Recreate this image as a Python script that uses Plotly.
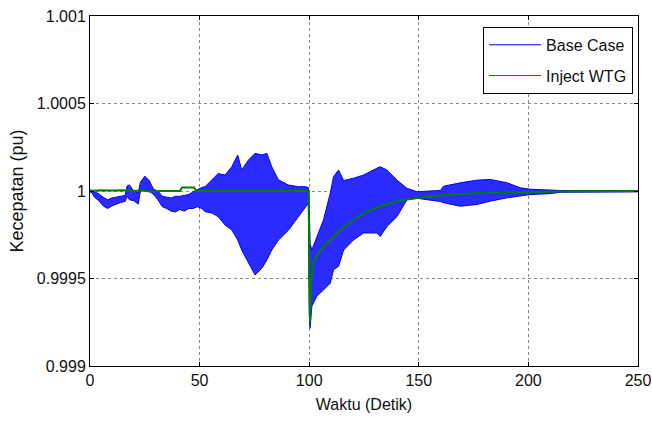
import plotly.graph_objects as go

# Base Case: envelope of the fast oscillation (time in s, speed in pu)
t_base = [0, 1, 2, 4, 6, 8, 10, 12, 14, 16, 17, 18, 20, 22, 23, 25, 27, 29, 31, 33, 35, 37, 39, 41, 43, 45,
          47, 49, 51, 52.5, 55.6, 58.5, 61.6, 64.7, 67.4, 69.2, 72.3, 75.3, 78.4, 80.7, 82.9, 86, 90.6,
          95.1, 98.2, 99.6, 100, 100.4, 101.2, 103.5, 106.5, 109.6, 111.1, 113.4, 115.7, 120.2, 124.8,
          130.9, 132.4, 135.4, 140, 144.6, 149.2, 155, 159.8, 161.3, 169, 176.6, 182.6, 190.3, 196.3,
          201, 210, 215, 250]
base_hi = [1.000005, 1.000005, 0.999995, 0.999985, 0.999965, 0.99995, 0.99996, 0.999965, 0.99997, 0.999975,
           1.00003, 1.000035, 1.0, 0.99999, 1.00005, 1.000085, 1.00006, 1.00001, 1.0, 0.99997, 0.999965,
           0.99996, 0.99997, 0.99997, 0.999975, 0.99998, 0.999995, 1.00001, 1.00002, 1.000025, 1.000063,
           1.0001, 1.000091, 1.000139, 1.000206, 1.00012, 1.000177, 1.000215, 1.000206, 1.000215, 1.000139,
           1.000063, 1.000034, 1.000025, 1.000025, 1.00002, 0.99995, 0.9997, 0.999663, 0.99974, 0.999834,
           0.999987, 1.000082, 1.00012, 1.00006, 1.000073, 1.000091, 1.00013, 1.000139, 1.00012, 1.000063,
           1.000015, 0.999996, 1.0, 1.000003, 1.000027, 1.000047, 1.000062, 1.000066, 1.000047, 1.000018,
           1.00001, 1.000005, 1.000003, 1.000003]
base_lo = [0.999995, 0.99999, 0.999965, 0.999945, 0.999915, 0.9999, 0.999915, 0.999925, 0.999935, 0.99994,
           0.99997, 0.99995, 0.999945, 0.999925, 1.0, 1.000005, 1.0, 0.99998, 0.99995, 0.99991, 0.9999,
           0.999885, 0.99988, 0.999895, 0.999885, 0.9999, 0.9999, 0.99991, 0.9999, 0.999882, 0.999874,
           0.999853, 0.999806, 0.999777, 0.99972, 0.999663, 0.999587, 0.99952, 0.999558, 0.999606, 0.999663,
           0.99972, 0.999777, 0.999853, 0.99991, 0.99993, 0.9993, 0.999215, 0.99934, 0.9994, 0.999434,
           0.999473, 0.99955, 0.99957, 0.999663, 0.99972, 0.99976, 0.99976, 0.99974, 0.999796, 0.999853,
           0.99995, 0.999958, 0.99995, 0.99994, 0.999933, 0.999913, 0.999923, 0.999942, 0.999961, 0.999974,
           0.99998, 0.999985, 0.999993, 0.999995]

# Inject WTG
t_wtg = [0, 5, 10, 15, 20, 25, 28, 30, 41, 42, 47.5, 48.5, 60, 80, 99.8, 100.1, 100.4, 101, 102, 104.5,
         107, 109.6, 114.2, 120.2, 126.3, 133.9, 141.6, 149.2, 155, 165.9, 182.6, 200.9, 220, 250]
wtg = [1.0, 1.000005, 1.000003, 1.000005, 1.0, 1.000003, 0.999995, 1.0, 1.0, 1.00002, 1.00002, 1.0, 1.0,
       1.000002, 1.0, 0.9995, 0.99925, 0.9995, 0.99959, 0.99965, 0.99969, 0.99972, 0.999777, 0.999834,
       0.999882, 0.99992, 0.999945, 0.99996, 0.999967, 0.999981, 0.99999, 0.999996, 0.999999, 1.0]

x_ticks = [0, 50, 100, 150, 200, 250]
y_ticks = [0.999, 0.9995, 1.0, 1.0005, 1.001]
y_tick_text = ["0.999", "0.9995", "1", "1.0005", "1.001"]

BLUE = "#0000ff"
GREEN = "#007f00"
FONT = "Liberation Sans, Arial, sans-serif"
TXT = "#111111"

fig = go.Figure()
# legend-only entries first
fig.add_trace(go.Scatter(x=[None], y=[None], mode="lines", line=dict(color=BLUE, width=1),
                         name="Base Case", legendgroup="a"))
fig.add_trace(go.Scatter(x=[None], y=[None], mode="lines", line=dict(color=GREEN, width=1),
                         name="Inject WTG", legendgroup="b"))
fig.add_trace(go.Scatter(x=t_base, y=base_lo, mode="lines", line=dict(color=BLUE, width=1),
                         showlegend=False, hoverinfo="skip"))
fig.add_trace(go.Scatter(x=t_base, y=base_hi, mode="lines", line=dict(color=BLUE, width=1),
                         fill="tonexty", fillcolor="#2b2bff", showlegend=False, hoverinfo="skip"))
fig.add_trace(go.Scatter(x=t_wtg, y=wtg, mode="lines", line=dict(color=GREEN, width=2),
                         showlegend=False))

axis_common = dict(showline=True, linecolor="black", linewidth=1, mirror="ticks", ticks="inside",
                   ticklen=4, tickcolor="black", showgrid=True, gridcolor="#888888", griddash="dot",
                   gridwidth=1, zeroline=False, tickfont=dict(family=FONT, size=16, color=TXT))

fig.update_xaxes(range=[0, 250], tickvals=x_ticks,
                 title=dict(text="Waktu (Detik)", standoff=10, font=dict(family=FONT, size=16, color=TXT)),
                 **axis_common)
fig.update_yaxes(range=[0.999, 1.001], tickvals=y_ticks, ticktext=y_tick_text,
                 title=dict(text="Kecepatan (pu)", standoff=8, font=dict(family=FONT, size=18, color=TXT)),
                 **axis_common)

fig.update_layout(
    width=652, height=423,
    margin=dict(l=90, r=14, t=16, b=57, autoexpand=False),
    paper_bgcolor="white", plot_bgcolor="white",
    font=dict(family=FONT, size=16, color=TXT),
    legend=dict(x=0.991, y=0.969, xanchor="right", yanchor="top", bgcolor="white",
                bordercolor="black", borderwidth=1, font=dict(family=FONT, size=16, color=TXT),
                traceorder="grouped", tracegroupgap=7, itemwidth=52),
)

fig.write_html("out.html", config={"displayModeBar": False},
               post_script="document.body.style.margin='0';document.body.style.overflow='hidden';")
